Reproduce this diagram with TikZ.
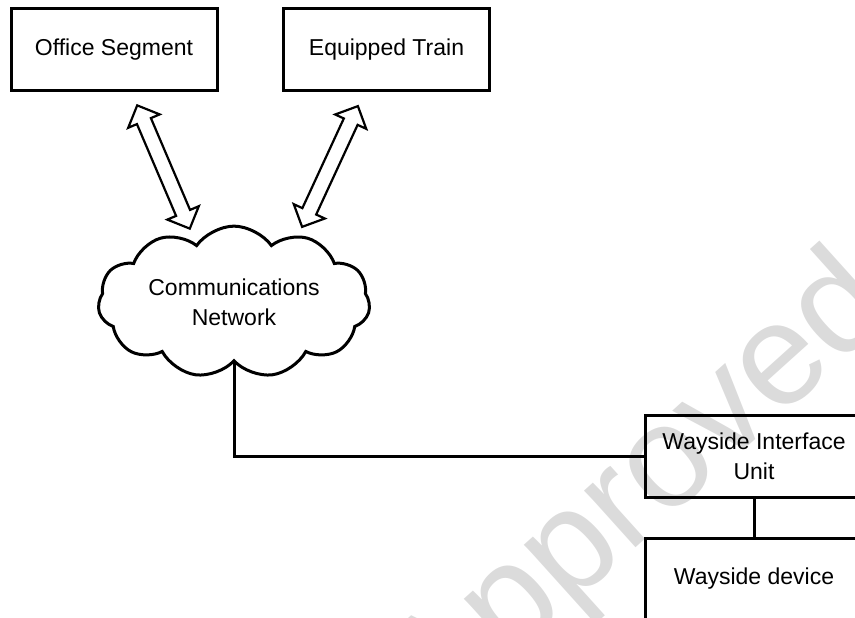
\documentclass[tikz,border=0pt]{standalone}
\usepackage{fontspec}
\setmainfont{Liberation Sans}
\usetikzlibrary{shapes.symbols,shapes.arrows,calc}

\begin{document}
\begin{tikzpicture}[x=1pt,y=-1pt,line width=3pt,font=\fontsize{23}{30}\selectfont,
block/.style={draw,rectangle,minimum width=206pt,minimum height=82pt,inner sep=0pt,align=center},
link/.style={draw,double arrow,line width=2.2pt,double arrow head extend=9.5pt,inner sep=0pt,text height=13pt,text depth=0pt,text width=0pt},
net/.style={draw,cloud,cloud puffs=11,cloud puff arc=110,aspect=2,minimum width=272pt,minimum height=140pt,inner sep=0pt,align=center}]
\useasboundingbox (0,0) rectangle (855,618);
\clip (0,0) rectangle (855,618);
% watermark
\node[text=black!14,rotate=42,font=\fontsize{145}{145}\selectfont] (mark) at (642,492) {Approved};
% blocks
\node[block] (office) at (114,50) {Office Segment};
\node[block] (train) at (386.5,50) {Equipped Train};
\node[net] (cn) at (234,302) {Communications\\Network};
\node[block,minimum width=218pt] (wiu) at (754,456) {Wayside Interface\\Unit};
\node[block,minimum width=218pt] (dev) at (754,579) {Wayside device};
% links to the network
\coordinate (os-tip) at (137,105);
\coordinate (os-end) at (190,229);
\coordinate (et-tip) at (358,106);
\coordinate (et-end) at (302,227);
\node[link,rotate=113.1,minimum height=134pt] (os-link) at ($(os-tip)!0.5!(os-end)$) {};
\node[link,rotate=65.2,minimum height=133pt] (et-link) at ($(et-tip)!0.5!(et-end)$) {};
% wires
\draw (cn.south) |- (wiu.west);
\draw (wiu.south) -- (dev.north);
\end{tikzpicture}
\end{document}
